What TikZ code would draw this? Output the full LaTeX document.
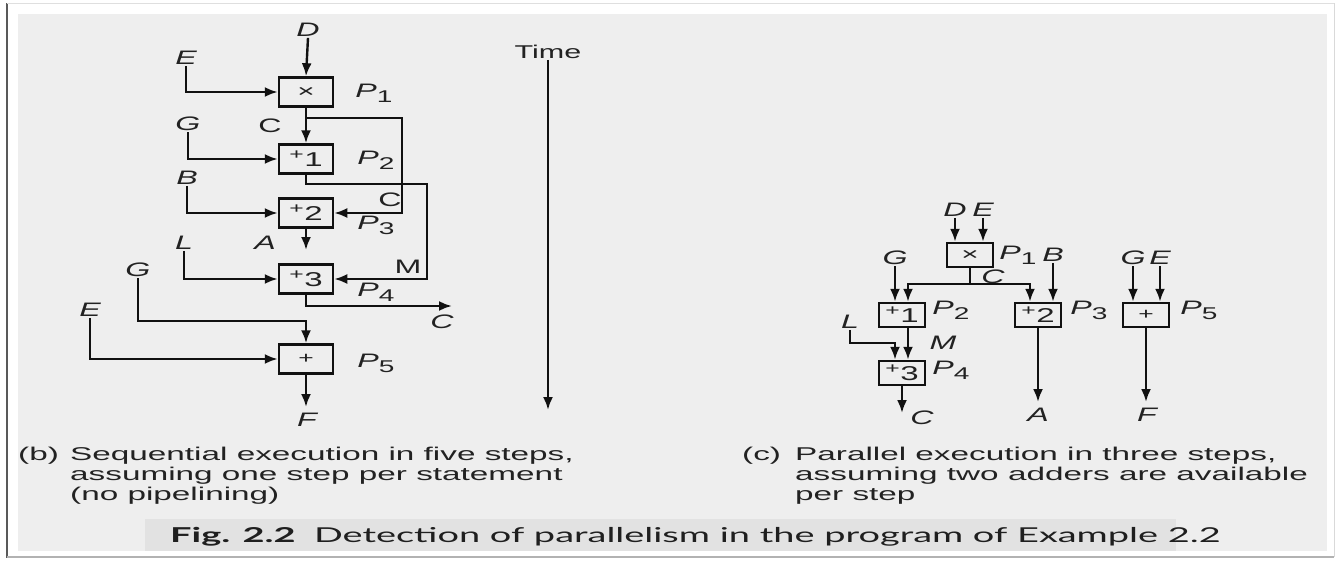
\documentclass[tikz,border=0pt]{standalone}
\usepackage{fontspec}
\setmainfont[FakeStretch=1.65]{Liberation Sans}
\newfontfamily\capfont[FakeStretch=1.8]{Liberation Sans}
\newfontfamily\figfont[FakeStretch=1.85]{Lato}
\usetikzlibrary{arrows.meta,calc}
\definecolor{paper}{HTML}{EEEEEE}
\definecolor{capbg}{HTML}{E2E2E2}
\definecolor{ink}{HTML}{111111}
\definecolor{txt}{HTML}{222222}
% adder symbol: raised plus with lowered index
\newcommand{\plusop}[1]{\raisebox{4pt}{\fontsize{15}{15}\selectfont +}\kern0.5pt\raisebox{-3pt}{\fontsize{20}{20}\selectfont #1}}
% processor name with subscript
\newcommand{\Pn}[1]{\textit{P}\raisebox{-5pt}{\upshape\fontsize{17}{17}\selectfont #1}}

\begin{document}
\begin{tikzpicture}[x=1pt,y=-1pt,
  every node/.style={text=txt, font=\fontsize{19.5}{21}\selectfont},
  opbox/.style={draw=ink, line width=2.5pt, minimum width=54pt, minimum height=29pt, inner sep=0pt},
  sbox/.style={opbox, minimum width=46pt, minimum height=24pt},
  var/.style={font=\fontsize{19.5}{21}\selectfont\itshape, inner sep=1pt},
  up/.style={inner sep=1pt},
  wire/.style={draw=ink, line width=2.4pt},
  arr/.style={wire, -{Latex[length=13pt,width=10pt]}},
  capline/.style={anchor=base west, inner sep=0pt, font=\capfont\fontsize{18.5}{20}\selectfont},
]
\useasboundingbox (0,0) rectangle (1337,560);

% page and frame
\fill[white] (0,0) rectangle (1337,560);
\fill[paper] (18,14) rectangle (1327,551);
\fill[capbg] (145,519) rectangle (1176,551);
\draw[gray!70!black, line width=2pt] (7,3) -- (7,558);
\draw[gray!60, line width=1.5pt] (7,557) -- (1334,557);
\draw[gray!30, line width=1pt] (1334,3) -- (1334,557);
\draw[gray!25, line width=1pt] (7,3) -- (1334,3);

% ---------- (b) sequential execution ----------
\node[opbox] (b1) at (306,92) {\fontsize{18}{18}\selectfont ×};
\node[opbox] (b2) at (306,159) {\plusop1};
\node[opbox] (b3) at (306,213) {\plusop2};
\node[opbox] (b4) at (306,279) {\plusop3};
\node[opbox] (b5) at (306,359) {\fontsize{16}{16}\selectfont +};

\node[var] (lD) at (308,30) {D};
\node[var] (lE1) at (186,58) {E};
\node[var] (lG1) at (188,124) {G};
\node[var] (lB) at (187,178) {B};
\node[var] (lL) at (184,243) {L};
\node[var] (lG2) at (138,270) {G};
\node[var] (lE2) at (90,310) {E};
\node[up] (lC1) at (270,126) {C};
\node[up] (lC2) at (390,200) {C};
\node[var] (lA) at (265,243) {A};
\node[up] (lM) at (408,267) {M};
\node[var] (lC3) at (442,322) {C};
\node[var] (lF) at (307,420) {F};
\node[up] (p1) at (374,93) {\Pn1};
\node[up] (p2) at (376,160) {\Pn2};
\node[up] (p3) at (376,225) {\Pn3};
\node[up] (p4) at (376,292) {\Pn4};
\node[up] (p5) at (376,363) {\Pn5};

\coordinate (cj) at (306,118);
\coordinate (cr) at (402,118);
\coordinate (mr) at (427,184);
\coordinate (aend) at (306,250);
\coordinate (cout) at (452,306);
\coordinate (g5) at (306,321);
\coordinate (fend) at (306,407);

\draw[arr] (lD.south) -- (b1.north);
\draw[arr] (lE1.south) |- (b1.west);
\draw[arr] (b1.south) -- (b2.north);
\draw[arr] (cj) -- (cr) |- (b3.east);
\draw[arr] (lG1.south) |- (b2.west);
\draw[arr] (lB.south) |- (b3.west);
\draw[arr] (b2.south) |- (mr) |- (b4.east);
\draw[arr] (b3.south) -- (aend);
\draw[arr] (lL.south) |- (b4.west);
\draw[arr] (b4.south) |- (cout);
\draw[arr] (lG2.south) |- (g5) -- (b5.north);
\draw[arr] (lE2.south) |- (b5.west);
\draw[arr] (b5.south) -- (fend);

% time axis
\node[up, font=\fontsize{18.5}{20}\selectfont] (tm) at (548,52) {Time};
\coordinate (tend) at (548,410);
\draw[arr] (tm.south) -- (tend);

% ---------- (c) parallel execution ----------
\node[sbox] (r1) at (970,255) {\fontsize{18}{18}\selectfont ×};
\node[sbox] (r2) at (902,315) {\plusop1};
\node[sbox] (r3) at (1038,315) {\plusop2};
\node[sbox] (r4) at (902,373) {\plusop3};
\node[sbox] (r5) at (1146,315) {\fontsize{16}{16}\selectfont +};

\node[var] (rD) at (955,210) {D};
\node[var] (rE) at (983,210) {E};
\node[up] (q1) at (1018,255) {\Pn1};
\node[var] (rB) at (1053,255) {B};
\node[var] (rC) at (993,277) {C};
\node[var] (rG) at (895,258) {G};
\node[up] (q2) at (951,310) {\Pn2};
\node[up] (q3) at (1089,310) {\Pn3};
\node[var] (rG2) at (1133,258) {G};
\node[var] (rE2) at (1160,258) {E};
\node[up] (q5) at (1199,310) {\Pn5};
\node[var] (rL) at (850,322) {L};
\node[var] (rM) at (943,343) {M};
\node[up] (q4) at (951,370) {\Pn4};
\node[var] (rCo) at (922,418) {C};
\node[var] (rA) at (1038,415) {A};
\node[var] (rF) at (1147,415) {F};

\coordinate (cj2) at (970,284);
\coordinate (cL) at (908,284);
\coordinate (cR) at (1030,284);
\coordinate (lk) at (895,343);
\coordinate (r4e) at (902,413);
\coordinate (r3e) at (1038,402);
\coordinate (r5e) at (1146,402);

\draw[arr] (rD.south) -- (rD.south |- r1.north);
\draw[arr] (rE.south) -- (rE.south |- r1.north);
\draw[arr] (r1.south) -- (cj2) -- (cL) -- (cL |- r2.north);
\draw[arr] (cj2) -- (cR) -- (cR |- r3.north);
\draw[arr] (rG.south) -- (rG.south |- r2.north);
\draw[arr] (rB.south) -- (rB.south |- r3.north);
\draw[arr] (cL |- r2.south) -- (cL |- r4.north);
\draw[arr] (rL.south) |- (lk) -- (lk |- r4.north);
\draw[arr] (r4.south) -- (r4e);
\draw[arr] (r3.south) -- (r3e);
\draw[arr] (rG2.south) -- (rG2.south |- r5.north);
\draw[arr] (rE2.south) -- (rE2.south |- r5.north);
\draw[arr] (r5.south) -- (r5e);

% ---------- captions ----------
\node[capline] (bb) at (18,460) {(b)};
\node[capline] (bt1) at (70,460) {Sequential execution in five steps,};
\node[capline] (bt2) at (70,480) {assuming one step per statement};
\node[capline] (bt3) at (70,500) {(no pipelining)};
\node[capline] (cc) at (742,460) {(c)};
\node[capline] (ct1) at (795,460) {Parallel execution in three steps,};
\node[capline] (ct2) at (795,480) {assuming two adders are available};
\node[capline] (ct3) at (795,500) {per step};
\node[anchor=base west, inner sep=0pt, text=black!88, font=\figfont\fontsize{20.5}{22}\selectfont] (fig) at (170,542)
  {\textbf{Fig. 2.2}\hspace{0.9em}Detection of parallelism in the program of Example 2.2};
\end{tikzpicture}
\end{document}
